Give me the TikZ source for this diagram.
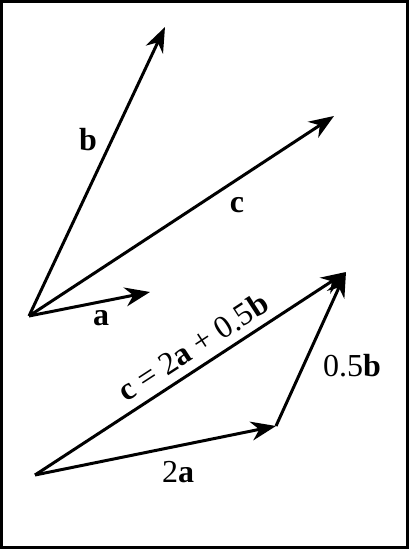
\documentclass[tikz,border=0pt]{standalone}
\usepackage{fontspec}
\setmainfont{Liberation Serif}
\usetikzlibrary{arrows.meta}

\begin{document}
\begin{tikzpicture}[x=1pt,y=1pt,
    vec/.style={line width=3pt,-{Stealth[length=25pt,width=19pt,inset=8pt]}},
    lbl/.style={font=\fontsize{32}{36}\selectfont,inner sep=0pt}]
  \useasboundingbox (0,0) rectangle (409,549);
  \draw[line width=3pt] (1.5,1.5) rectangle (407.5,547.5);
  % top: a, b and c from one point
  \coordinate (o) at (29,233);
  \coordinate (a) at (150,257);
  \coordinate (b) at (165,522);
  \coordinate (c) at (334,433);
  % bottom: c as 2a + 0.5b
  \coordinate (o2) at (35,74);
  \coordinate (a2) at (276,123);
  \coordinate (c2) at (346,277);
  \foreach \s/\e in {o/a, o/b, o/c, o2/a2, a2/c2, o2/c2}
    \draw[vec] (\s) -- (\e);
  \node[lbl] (la) at (101,231) {\textbf{a}};
  \node[lbl] (lb) at (88,409) {\textbf{b}};
  \node[lbl] (lc) at (237,344) {\textbf{c}};
  \node[lbl] (l2a) at (178,77) {2\textbf{a}};
  \node[lbl] (lhb) at (352,183) {0.5\textbf{b}};
  \node[lbl,rotate=33] (lsum) at (193,202) {\textbf{c} = 2\textbf{a} + 0.5\textbf{b}};
\end{tikzpicture}
\end{document}
